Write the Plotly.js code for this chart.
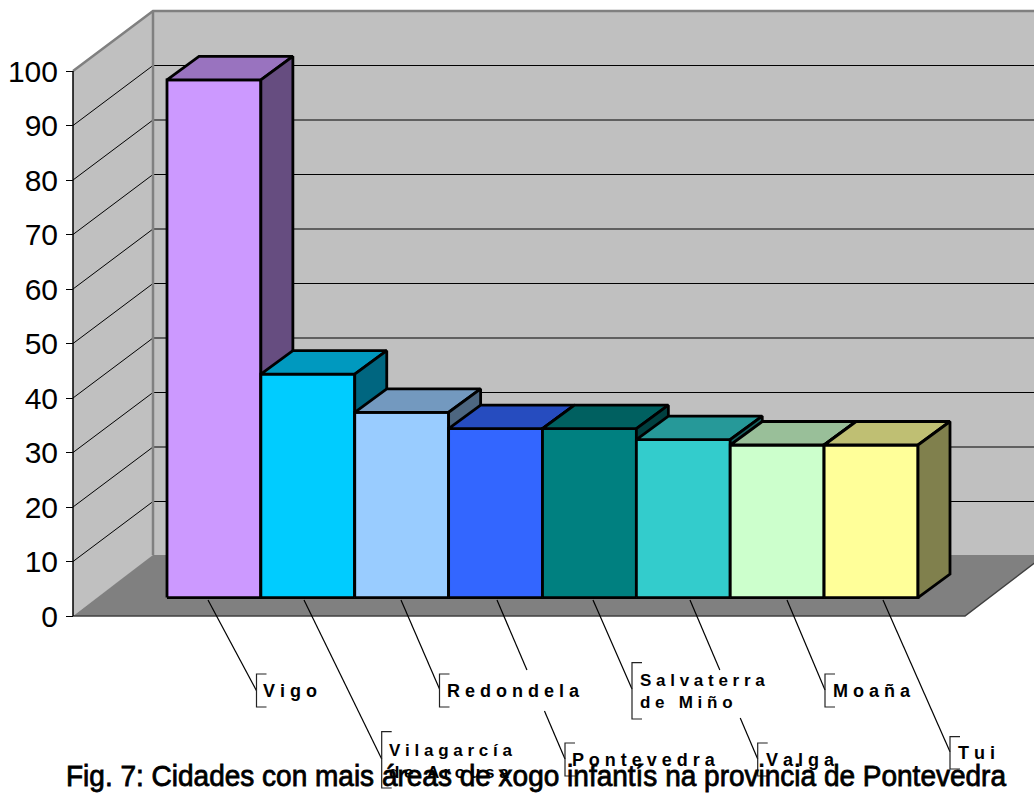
<!DOCTYPE html>
<html><head><meta charset="utf-8">
<script src="https://cdn.plot.ly/plotly-3.0.1.min.js"></script>
<style>html,body{margin:0;padding:0;background:#fff}#c{width:1034px;height:793px}</style>
</head><body><div id="c"></div>
<script>
const categories = ["Vigo","Vilagarcía de Arousa","Redondela","Pontevedra","Salvaterra de Miño","Valga","Moaña","Tui"];
const values = [95,41,34,31,31,29,28,28];
const tickValues = [0,10,20,30,40,50,60,70,80,90,100];
const frontColors = ["#CC99FF","#00CCFF","#99CCFF","#3366FF","#008080","#33CCCC","#CCFFCC","#FFFF99"];
const topColors   = ["#9973BF","#0099BF","#7399BF","#264CBF","#006060","#269999","#99BF99","#BFBF73"];
const sideColors  = ["#664D80","#006680","#4D6680","#1A3380","#004040","#1A6666","#668066","#80804D"];
const labelTexts = ["V i g o","V i l a g a r c í a<br>d e \u00A0 A r o u s a","R e d o n d e l a","P o n t e v e d r a","S a l v a t e r r a<br>d e \u00A0 M i ñ o","V a l g a","M o a ñ a","T u i"];
const titleText = "Fig. 7: Cidades con mais áreas de xogo infantís na provincia de Pontevedra";

// page layout, in pixels
const W=1034,H=793,XS=93.875,YS=5.45,X0=167,Y0=616;
const toX=p=>(p-X0)/XS, toY=p=>(Y0-p)/YS;
const baseY=toY(597.6), barDX=32/XS, barDY=23.5/YS;
const axisX=toX(73), wallDX=80/XS, wallDY=60/YS, floorDY=61/YS;
const floorRightX=toX(965);

const labelLeft=[263,389,447,572,640,766,832.5,958];
const labelMid=[690.5,761.5,690.5,759.5,691,759.5,690.5,753];
const labelSize=[18,17,18,18,17,18,18,18];
const bracketX=[256.5,381.7,439.5,565,632,757.7,825,950];
const bracketTop=[674,731.7,674,743,662.7,743,674,736.7];
const bracketBot=[707,788,707,776,719,776,707,769];
const leadStart=[208,304,401,497,593,690,787,883];
const leadEndY=[690.7,759,689,759,689,759,690,751.7];
const leadGap=[null,null,null,[670,711],null,[670,718],null,null];

const traces=[];
const poly=(xs,ys,fill)=>traces.push({type:"scatter",mode:"lines",x:[...xs,xs[0]],y:[...ys,ys[0]],fill:"toself",fillcolor:fill,line:{width:0},hoverinfo:"skip",showlegend:false});
const line=(xs,ys,color,width)=>traces.push({type:"scatter",mode:"lines",x:xs,y:ys,line:{color:color,width:width},connectgaps:false,hoverinfo:"skip",showlegend:false});

// walls and floor
poly([axisX+wallDX,toX(W+30),toX(W+30),axisX+wallDX],[wallDY,wallDY,100+wallDY,100+wallDY],"#C0C0C0");
poly([axisX,axisX+wallDX,axisX+wallDX,axisX],[0,wallDY,100+wallDY,100],"#C0C0C0");
poly([axisX,floorRightX,floorRightX+wallDX,axisX+wallDX],[0,0,floorDY,floorDY],"#808080");

// gridlines
tickValues.filter(v=>v>0&&v<100).forEach(v=>line([axisX,axisX+wallDX,toX(W+30)],[v,v+wallDY,v+wallDY],"#000",1));
// frame
line([axisX,axisX+wallDX,toX(W+30)],[100,100+wallDY,100+wallDY],"#808080",2.5);
line([axisX+wallDX,axisX+wallDX],[floorDY,100+wallDY],"#808080",2.5);
line([axisX,floorRightX,floorRightX+wallDX],[0,0,floorDY],"#404040",1.5);
line([axisX,axisX],[0,100],"#000",1.5);

// bars
values.forEach((v,i)=>{
  const a=i,b=i+1,t=baseY+v,o=baseY;
  const stroke={color:"#000",width:2.8};
  const face=(xs,ys,c)=>traces.push({type:"scatter",mode:"lines",x:[...xs,xs[0]],y:[...ys,ys[0]],fill:"toself",fillcolor:c,line:stroke,hoverinfo:"skip",showlegend:false});
  face([a,b,b,a],[o,o,t,t],frontColors[i]);
  face([a,b,b+barDX,a+barDX],[t,t,t+barDY,t+barDY],topColors[i]);
  face([b,b+barDX,b+barDX,b],[o,o+barDY,t+barDY,t],sideColors[i]);
});

// leaders and brackets
categories.forEach((c,i)=>{
  const x1=leadStart[i],y1=600,x2=bracketX[i],y2=leadEndY[i];
  let xs=[x1],ys=[y1];
  if(leadGap[i]){
    const at=y=>x1+(x2-x1)*(y-y1)/(y2-y1);
    xs.push(at(leadGap[i][0]),null,at(leadGap[i][1]));
    ys.push(leadGap[i][0],null,leadGap[i][1]);
  }
  xs.push(x2);ys.push(y2);
  line(xs.map(p=>p===null?null:toX(p)),ys.map(p=>p===null?null:toY(p)),"#000",1.2);
  const bx=bracketX[i];
  line([bx+10,bx,bx,bx+10].map(toX),[bracketTop[i],bracketTop[i],bracketBot[i],bracketBot[i]].map(toY),"#222",1.2);
});

const annotations=categories.map((c,i)=>({
  text:labelTexts[i],xref:"x",yref:"y",x:toX(labelLeft[i]),y:toY(labelMid[i]),
  xanchor:"left",yanchor:"middle",align:"left",showarrow:false,borderpad:0,borderwidth:0,
  font:{family:"Liberation Sans, Arial, sans-serif",size:labelSize[i],color:"#000",weight:700}
}));

Plotly.newPlot("c",traces,{
  width:W,height:H,margin:{l:0,r:0,t:0,b:0,pad:0},paper_bgcolor:"#fff",plot_bgcolor:"#fff",showlegend:false,
  title:{text:titleText,xref:"paper",yref:"paper",x:536/W,y:1-776/H,xanchor:"center",yanchor:"middle",automargin:false,
    font:{family:"Liberation Sans, Arial, sans-serif",size:29,color:"#000",weight:400}},
  xaxis:{visible:false,range:[toX(0),toX(W)],fixedrange:true},
  yaxis:{range:[toY(H),toY(0)],tickmode:"array",tickvals:tickValues,ticktext:tickValues.map(String),
    anchor:"free",position:73/W,side:"left",showgrid:false,zeroline:false,showline:false,
    ticks:"outside",ticklen:7,tickwidth:1,tickcolor:"#000",automargin:false,fixedrange:true,ticklabelstandoff:2,
    tickfont:{family:"Liberation Sans, Arial, sans-serif",size:30,color:"#000"}},
  annotations:annotations
},{displayModeBar:false,staticPlot:true}).then(gd=>{
  const t=gd.querySelector(".gtitle");
  if(t){t.setAttribute("textLength","940");t.setAttribute("lengthAdjust","spacingAndGlyphs");
    t.style.stroke="#000";t.style.strokeWidth="0.8px";}
});
</script></body></html>
